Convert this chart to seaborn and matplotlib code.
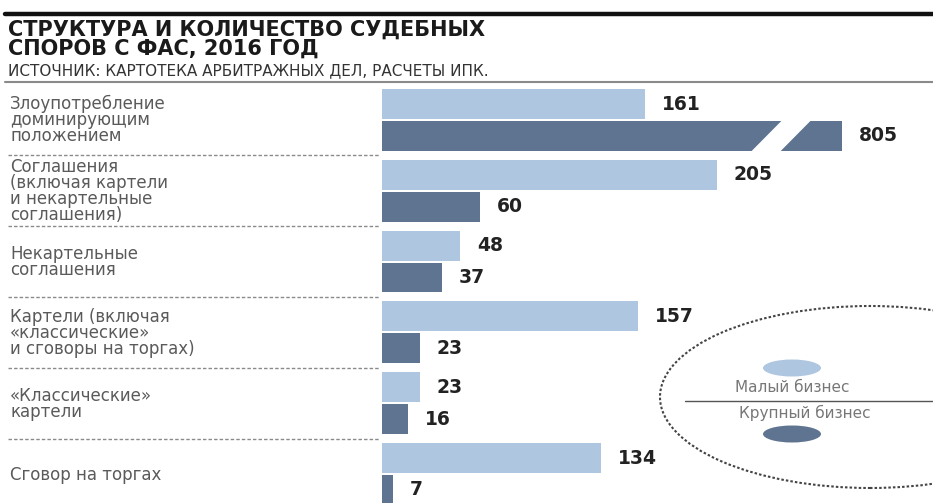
import numpy as np
import pandas as pd
import matplotlib
matplotlib.use("Agg")
import matplotlib.pyplot as plt
import matplotlib.transforms as mtransforms
from matplotlib.patches import Ellipse, Polygon
from matplotlib.lines import Line2D
import seaborn as sns

# ---- data ----
categories = [
    "Злоупотребление\nдоминирующим\nположением",
    "Соглашения\n(включая картели\nи некартельные\nсоглашения)",
    "Некартельные\nсоглашения",
    "Картели (включая\n«классические»\nи сговоры на торгах)",
    "«Классические»\nкартели",
    "Сговор на торгах",
]
small_business = [161, 205, 48, 157, 23, 134]
large_business = [805, 60, 37, 23, 16, 7]
series_names = ["Малый бизнес", "Крупный бизнес"]
series_colors = ["#AEC6DF", "#5E7490"]

title_lines = ["СТРУКТУРА И КОЛИЧЕСТВО СУДЕБНЫХ", "СПОРОВ С ФАС, 2016 ГОД"]
source_text = "ИСТОЧНИК: КАРТОТЕКА АРБИТРАЖНЫХ ДЕЛ, РАСЧЕТЫ ИПК."

df = pd.DataFrame({
    "category": categories * 2,
    "series": [series_names[0]] * len(categories) + [series_names[1]] * len(categories),
    "value": small_business + large_business,
})

# ---- figure setup ----
W, H = 933, 503
sns.set_theme(style="white")
plt.rcParams["font.family"] = ["DejaVu Sans"]

fig = plt.figure(figsize=(W / 100, H / 100), dpi=100)
fig.patch.set_facecolor("white")


def fx(px):
    return px / W


def fy(px):
    return 1 - px / H


ax = fig.add_axes([fx(382), 0, fx(933) - fx(382), fy(84)])
ax.set_facecolor("none")

sns.barplot(
    data=df, y="category", x="value", hue="series", orient="h",
    palette=series_colors, saturation=1, width=0.9, gap=0.06, linewidth=0,
    legend=False, ax=ax,
)

# broken value axis: compress the range between B1 and B2
B1, B2, SHIFT = 226.0, 786.0, 523.3
F2 = B2 - SHIFT


def fwd(x):
    x = np.asarray(x, dtype=float)
    return np.where(x <= B1, x,
                    np.where(x >= B2, x - SHIFT,
                             B1 + (x - B1) * (F2 - B1) / (B2 - B1)))


def inv(u):
    u = np.asarray(u, dtype=float)
    return np.where(u <= B1, u,
                    np.where(u >= F2, u + SHIFT,
                             B1 + (u - B1) * (B2 - B1) / (F2 - B1)))


ax.set_xscale("function", functions=(fwd, inv))
ax.set_xlim(0, float(inv(337.4)))
ax.set_ylim(5.41, -0.508)
ax.axis("off")

# slanted white cut across the broken bar
big = ax.containers[1].patches[0]
y0, y1 = big.get_y(), big.get_y() + big.get_height()
eps = 0.01
cut = Polygon(
    [(float(inv(226.0)), y1 + eps), (float(inv(243.8)), y1 + eps),
     (float(inv(262.8)), y0 - eps), (float(inv(245.0)), y0 - eps)],
    closed=True, facecolor="white", edgecolor="none", zorder=5,
)
ax.add_patch(cut)

# value labels
for cont in ax.containers:
    ax.bar_label(cont, padding=12, fontsize=13.5, fontweight="bold",
                 color="#222222", zorder=6)

# ---- header ----
fig.add_artist(Line2D([fx(5), 1], [fy(14), fy(14)], color="#111111", lw=3.2))
fig.text(fx(8), fy(55), "\n".join(title_lines), fontsize=15, fontweight="bold",
         color="#1a1a1a", va="baseline", ha="left", linespacing=0.93)
fig.text(fx(8), fy(75), source_text, fontsize=11, color="#333333",
         va="baseline", ha="left")
fig.add_artist(Line2D([fx(5), 1], [fy(82), fy(82)], color="#8a8a8a", lw=1.5))

# ---- category labels and dashed separators ----
blend = mtransforms.blended_transform_factory(fig.transFigure, ax.transData)
pitch = 15.5 / 70.8
for i, label in enumerate(categories):
    n = label.count("\n") + 1
    y_last = i + (n - 1) / 2 * pitch + 0.085
    fig.text(fx(10), y_last, label, transform=blend, fontsize=12,
             color="#5a5a5a", va="baseline", ha="left", linespacing=0.86)
for i in range(len(categories) - 1):
    fig.add_artist(Line2D([fx(8), fx(380)], [i + 0.5, i + 0.5], transform=blend,
                          color="#8a8a8a", lw=1.0, linestyle=(0, (2.5, 1.5))))

# ---- legend ----
fig.add_artist(Ellipse((fx(870), fy(397)), 2 * 210 / W, 2 * 91 / H,
                       transform=fig.transFigure, facecolor="none",
                       edgecolor="#444444", lw=1.5, linestyle=(0, (1.2, 1.0))))
fig.add_artist(Ellipse((fx(792), fy(368)), 58 / W, 17 / H,
                       transform=fig.transFigure, facecolor=series_colors[0],
                       edgecolor="none"))
fig.add_artist(Ellipse((fx(792), fy(434)), 58 / W, 17 / H,
                       transform=fig.transFigure, facecolor=series_colors[1],
                       edgecolor="none"))
fig.text(fx(792), fy(388), series_names[0], fontsize=11, color="#777777",
         ha="center", va="center")
fig.add_artist(Line2D([fx(685), 1], [fy(401), fy(401)], color="#555555", lw=1.0))
fig.text(fx(805), fy(413), series_names[1], fontsize=11, color="#777777",
         ha="center", va="center")

fig.savefig("out.png", dpi=100, facecolor="white")
